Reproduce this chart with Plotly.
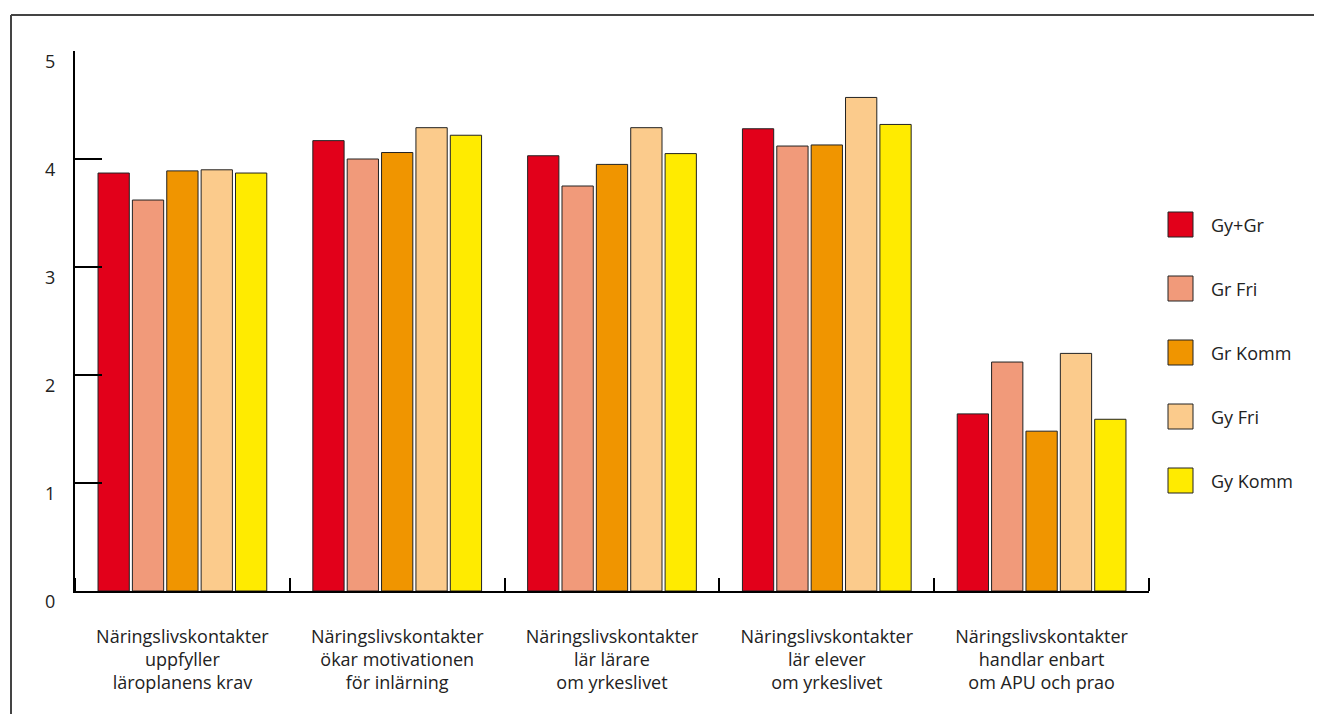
import plotly.graph_objects as go

# Kategorier och serier
categories = [
    "Näringslivskontakter<br>uppfyller<br>läroplanens krav",
    "Näringslivskontakter<br>ökar motivationen<br>för inlärning",
    "Näringslivskontakter<br>lär lärare<br>om yrkeslivet",
    "Näringslivskontakter<br>lär elever<br>om yrkeslivet",
    "Näringslivskontakter<br>handlar enbart<br>om APU och prao",
]
series_names = ["Gy+Gr", "Gr Fri", "Gr Komm", "Gy Fri", "Gy Komm"]
gy_gr = [3.87, 4.17, 4.03, 4.28, 1.64]
gr_fri = [3.62, 4.00, 3.75, 4.12, 2.12]
gr_komm = [3.89, 4.06, 3.95, 4.13, 1.48]
gy_fri = [3.90, 4.29, 4.29, 4.57, 2.20]
gy_komm = [3.87, 4.22, 4.05, 4.32, 1.59]
y_ticks = [0, 1, 2, 3, 4, 5]

colors = ["#E2001A", "#F19A7A", "#F09500", "#FBCB8C", "#FFEB00"]
values = [gy_gr, gr_fri, gr_komm, gy_fri, gy_komm]
font = "Open Sans, Lato, sans-serif"

# sidan har 8 px marginal, så allt flyttas upp/vänster
OFF = 8
L, R, T, B = 75 - OFF, 1149 - OFF, 51 - OFF, 591 - OFF
W, H = 1322, 714

def px_x(px):
    return (px - OFF - L) / (R - L)

def px_y(py):
    return (B - (py - OFF)) / (B - T)

x = list(range(len(categories)))

fig = go.Figure()
for name, vals, col in zip(series_names, values, colors):
    fig.add_trace(go.Bar(
        x=x, y=vals, name=name,
        marker=dict(color=col, line=dict(color="#222", width=1)),
        showlegend=False,
    ))

# egen legend med rutor och text
for i, (name, col) in enumerate(zip(series_names, colors)):
    top = 212 + i * 64
    fig.add_shape(type="rect", xref="paper", yref="paper",
                  x0=px_x(1168), x1=px_x(1193), y0=px_y(top + 25), y1=px_y(top),
                  fillcolor=col, line=dict(color="#222", width=1))
    fig.add_annotation(xref="paper", yref="paper", x=px_x(1209), y=px_y(top + 12.5),
                       text=name, showarrow=False, xanchor="left", yanchor="middle",
                       font=dict(family=font, size=18, color="#222"))

# ram: övre och vänstra linjen
fig.add_shape(type="line", xref="paper", yref="paper",
              x0=px_x(11), x1=px_x(W + OFF), y0=px_y(15), y1=px_y(15),
              line=dict(color="#444", width=2))
fig.add_shape(type="line", xref="paper", yref="paper",
              x0=px_x(11), x1=px_x(11), y0=px_y(15), y1=px_y(H + OFF),
              line=dict(color="#444", width=2))

fig.update_layout(
    width=W, height=H,
    margin=dict(l=L, r=W - R, t=T, b=H - B, autoexpand=False),
    plot_bgcolor="white", paper_bgcolor="white",
    barmode="group", bargap=0.2, bargroupgap=0.09,
    font=dict(family=font, size=18, color="#222"),
)
fig.update_xaxes(
    range=[-0.5, 4.5], tickvals=x, ticktext=categories,
    showline=True, linecolor="black", linewidth=2,
    showgrid=False, zeroline=False, ticks="", automargin=False,
    tickfont=dict(family=font, size=18, color="#222"),
    ticklabelstandoff=28,
    minor=dict(tick0=0.5, dtick=1, ticks="inside", ticklen=13, tickwidth=2,
               tickcolor="black", showgrid=False),
)
fig.update_yaxes(
    range=[0, 5], tickvals=y_ticks, automargin=False,
    showline=True, linecolor="black", linewidth=2,
    showgrid=False, zeroline=False,
    ticks="inside", ticklen=27, tickwidth=2, tickcolor="black",
    tickfont=dict(family=font, size=18, color="#222"),
    ticklabelstandoff=14, ticklabelshift=11,
)

fig.write_html("out.html")
